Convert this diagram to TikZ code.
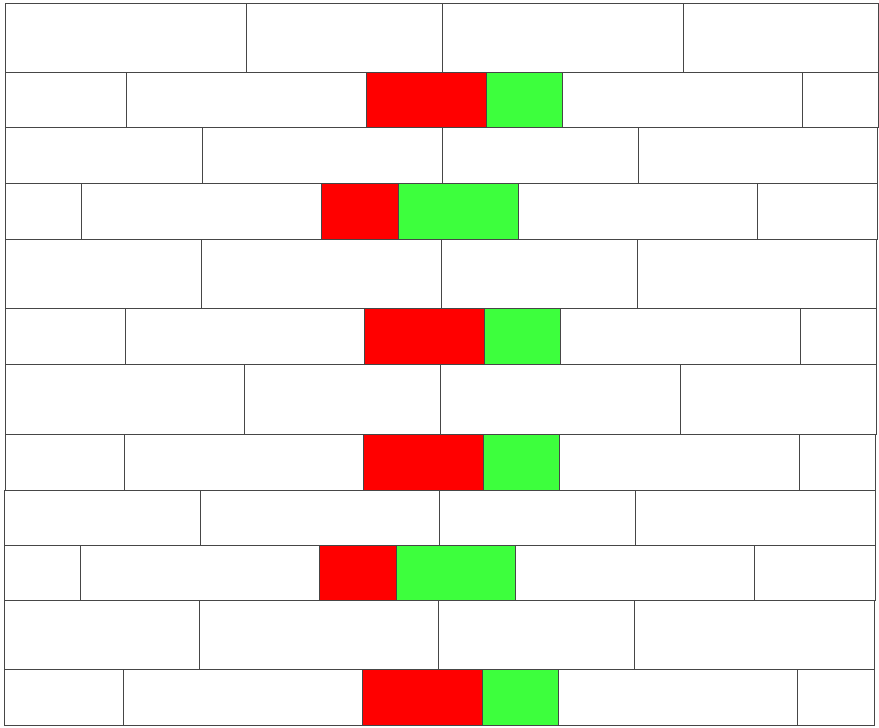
\documentclass[tikz,border=0pt]{standalone}
\definecolor{bred}{RGB}{255,0,0}
\definecolor{bgreen}{RGB}{61,255,61}
\definecolor{joint}{RGB}{70,70,70}
\tikzset{
  brick/.style={draw=joint, line width=0.75pt, fill=white},
  redbrick/.style={brick, fill=bred},
  greenbrick/.style={brick, fill=bgreen},
}
\newcommand{\brickrow}[3]{%
  \foreach \xa/\xb in {#3}{\draw[brick] (\xa,#1) rectangle (\xb,#2);}}
\begin{document}
\begin{tikzpicture}[x=1pt,y=-1pt]
\useasboundingbox (0,0) rectangle (879,728);
\fill[white] (0,0) rectangle (879,728);
% row 1
\brickrow{3}{72}{5/246,246/442,442/683,683/878}
% row 2
\brickrow{72}{127}{5/126,126/366,562/802,802/878}
\draw[redbrick] (366,72) rectangle (486,127);
\draw[greenbrick] (486,72) rectangle (562,127);
% row 3
\brickrow{127}{183}{5/202,202/442,442/638,638/877}
% row 4
\brickrow{183}{239}{5/81,81/321,518/757,757/877}
\draw[redbrick] (321,183) rectangle (398,239);
\draw[greenbrick] (398,183) rectangle (518,239);
% row 5
\brickrow{239}{308}{5/201,201/441,441/637,637/876}
% row 6
\brickrow{308}{364}{5/125,125/364,560/800,800/876}
\draw[redbrick] (364,308) rectangle (484,364);
\draw[greenbrick] (484,308) rectangle (560,364);
% row 7
\brickrow{364}{434}{5/244,244/440,440/680,680/876}
% row 8
\brickrow{434}{490}{5/124,124/363,559/799,799/875}
\draw[redbrick] (363,434) rectangle (483,490);
\draw[greenbrick] (483,434) rectangle (559,490);
% row 9
\brickrow{490}{545}{4/200,200/439,439/635,635/875}
% row 10
\brickrow{545}{600}{4/80,80/319,515/754,754/875}
\draw[redbrick] (319,545) rectangle (396,600);
\draw[greenbrick] (396,545) rectangle (515,600);
% row 11
\brickrow{600}{669}{4/199,199/438,438/634,634/874}
% row 12
\brickrow{669}{725}{4/123,123/362,558/797,797/874}
\draw[redbrick] (362,669) rectangle (482,725);
\draw[greenbrick] (482,669) rectangle (558,725);
\end{tikzpicture}
\end{document}
